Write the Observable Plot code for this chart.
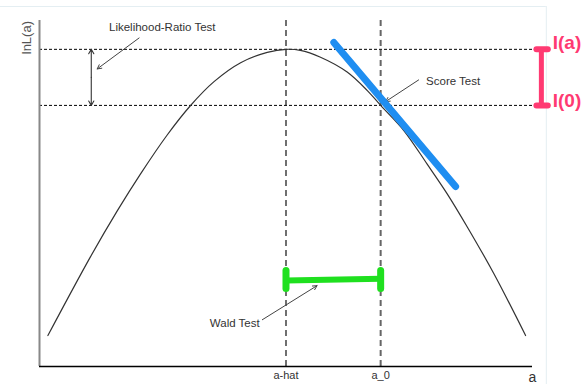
<!DOCTYPE html>
<html><head><meta charset="utf-8">
<script src="https://cdn.jsdelivr.net/npm/d3@7"></script>
<script src="https://cdn.jsdelivr.net/npm/@observablehq/plot@0.6"></script>
<style>body{margin:0;background:#fff} svg{display:block}</style>
</head><body><div id="chart"></div>
<script>
// log-likelihood curve lnL(a) (arbitrary units)
const curveA   = [1.7, 10.3, 15.8, 20.5, 25.9, 30.6, 35.4, 40.8, 46.2, 50.0, 52.9, 57.0, 62.4, 66.5, 69.2, 73.9, 78.6, 82.7, 86.8, 92.2, 98.6];
const curveLnL = [9.0, 31.8, 45.3, 56.0, 67.3, 75.8, 82.8, 88.3, 91.3, 92.2, 91.9, 89.9, 85.6, 80.2, 75.9, 68.6, 58.9, 50.2, 40.5, 26.9, 9.0];

const aHat = 50, a0 = 69.2;
const lnLMax = 92.2, lnL0 = 75.9;
const tickValues = [aHat, a0];
const tickLabels = ["a-hat", "a_0"];

// score test tangent
const tangentA = [59.7, 84.4];
const tangentLnL = [94.2, 52.3];
// wald test bar
const waldA = [aHat, a0];
const waldLnL = [25.0, 25.5];
const waldCapLnL = [22.7, 27.9];
// information bar I(a) - I(0)
const infoBarA = 101.8;
const infoCapA = [100.8, 103.1];
const infoLabels = ["I(a)", "I(0)"];
const infoLabelLnL = [94.0, 77.3];
const infoLabelA = 104.1;

// annotations
const annotationTexts = ["Likelihood-Ratio Test", "Score Test", "Wald Test"];
const annotationA   = [24.9, 83.9, 39.6];
const annotationLnL = [98.5, 82.9, 12.6];
const arrowFromA   = [20.2, 76.9, 45.2];
const arrowFromLnL = [95.5, 83.3, 13.6];
const arrowToA     = [11.7, 70.2, 56.3];
const arrowToLnL   = [86.5, 77.0, 23.5];
const lrBarA = 10.5;

const fam = '"Liberation Sans", Arial, sans-serif';
const pink = "#ff3a72";
const blue = "#1f8ef1";
const green = "#1fe01f";

const lrMid = (lnLMax + lnL0) / 2;

const plot = Plot.plot({
  width: 587, height: 384,
  marginLeft: 39, marginRight: 55, marginTop: 22, marginBottom: 18,
  x: {domain: [0, 100]},
  y: {domain: [0, 100], axis: null},
  style: {fontFamily: fam, background: "white", overflow: "visible"},
  marks: [
    // faint outer frame
    Plot.ruleY([104.65], {x1: -8, x2: 102.8, stroke: "#e4eef2", strokeWidth: 1}),
    Plot.ruleX([102.8], {y1: -6, y2: 104.65, stroke: "#e4eef2", strokeWidth: 1}),
    // dashed reference lines
    Plot.ruleY([lnLMax, lnL0], {x1: 0, x2: 100.2, stroke: "#000", strokeWidth: 1, strokeDasharray: "3,2"}),
    Plot.ruleX([aHat], {y1: 0, y2: 100.6, stroke: "#111", strokeWidth: 1.2, strokeDasharray: "6,4"}),
    Plot.ruleX([a0], {y1: 0, y2: 100.6, stroke: "#666", strokeWidth: 2, strokeDasharray: "6,4"}),
    // axis lines
    Plot.ruleX([0], {y1: 0, y2: 100.6, stroke: "#888", strokeWidth: 2}),
    Plot.ruleY([0], {x1: 0, x2: 100, stroke: "#000", strokeWidth: 1.5}),
    Plot.axisX({ticks: tickValues, tickFormat: d => tickLabels[tickValues.indexOf(d)], tickSize: 0, tickPadding: 5, fontSize: 11, fill: "#333", label: null}),
    Plot.text(["a"], {x: 100, y: -3.3, text: d => d, fontSize: 14, fill: "#333"}),
    Plot.text(["lnL(a)"], {x: -2.6, y: 95.6, text: d => d, fontSize: 13, fill: "#555", rotate: -90}),
    // the curve
    Plot.line({length: curveA.length}, {x: curveA, y: curveLnL, stroke: "#333", strokeWidth: 1.2, curve: "catmull-rom"}),
    // LR double arrow
    Plot.arrow([lnLMax, lnL0], {x1: lrBarA, x2: lrBarA, y1: lrMid, y2: d => d, stroke: "#333", strokeWidth: 1.1, headLength: 7, headAngle: 60}),
    // annotation arrows
    Plot.arrow({length: 3}, {x1: arrowFromA, y1: arrowFromLnL, x2: arrowToA, y2: arrowToLnL, stroke: "#444", strokeWidth: 1, headLength: 7, headAngle: 55}),
    Plot.text(annotationTexts, {x: annotationA, y: annotationLnL, text: d => d, fontSize: 11.5, fill: "#333"}),
    // score tangent
    Plot.link([0], {x1: tangentA[0], y1: tangentLnL[0], x2: tangentA[1], y2: tangentLnL[1], stroke: blue, strokeWidth: 7, strokeLinecap: "round"}),
    // wald bar
    Plot.link([0], {x1: waldA[0], y1: waldLnL[0], x2: waldA[1], y2: waldLnL[1], stroke: green, strokeWidth: 6}),
    Plot.link(waldA, {x1: d => d, x2: d => d, y1: waldCapLnL[0], y2: waldCapLnL[1], stroke: green, strokeWidth: 7, strokeLinecap: "round"}),
    // information bar
    Plot.link([0], {x1: infoBarA, x2: infoBarA, y1: lnLMax, y2: lnL0, stroke: pink, strokeWidth: 5}),
    Plot.link([lnLMax, lnL0], {x1: infoCapA[0], x2: infoCapA[1], y1: d => d, y2: d => d, stroke: pink, strokeWidth: 6, strokeLinecap: "round"}),
    Plot.text(infoLabels, {x: infoLabelA, y: infoLabelLnL, text: d => d, textAnchor: "start", fontSize: 19, fontWeight: "bold", fill: pink, stroke: "white", strokeWidth: 3})
  ]
});
document.getElementById("chart").appendChild(plot);
</script>
</body></html>
